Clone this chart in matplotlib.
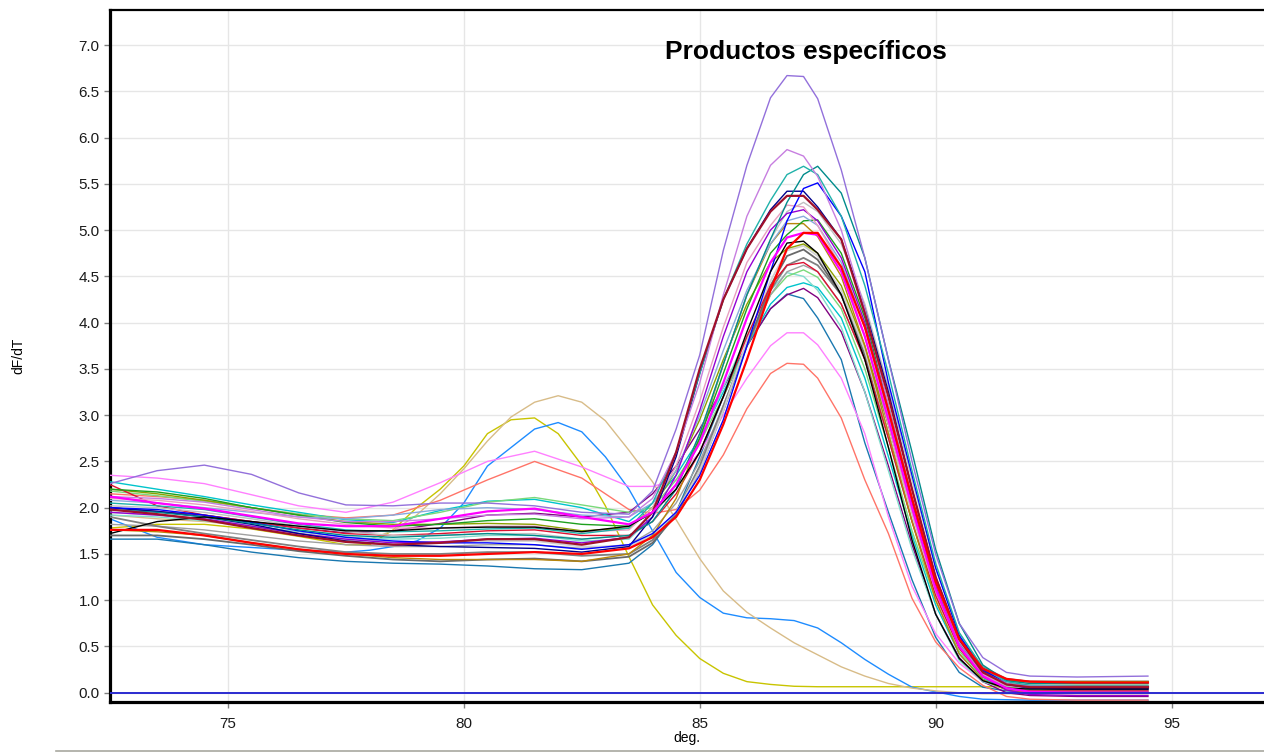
import numpy as np
import matplotlib.pyplot as plt
from matplotlib.lines import Line2D
from matplotlib.ticker import FormatStrFormatter

plt.rcParams['font.family'] = ['Liberation Sans', 'DejaVu Sans']

# Temperature grid (deg.) shared by the specific-product melt curves
temps = [72.5, 73.5, 74.5, 75.5, 76.5, 77.5, 78.5, 79.5, 80.5, 81.5, 82.5, 83.5,
         84.0, 84.5, 85.0, 85.5, 86.0, 86.5,
         86.85, 87.2, 87.5,
         88.0, 88.5, 89.0, 89.5, 90.0, 90.5, 91.0, 91.5, 92.0,
         93.0, 94.5]

# Finer grid for the off-target samples (peaks near 81-82 deg.)
temps_off = [72.5, 73.5, 74.5, 75.5, 76.5, 77.5, 78.0, 78.5, 79.0, 79.5, 80.0, 80.5,
             81.0, 81.5, 82.0, 82.5, 83.0, 83.5, 84.0, 84.5, 85.0, 85.5, 86.0, 86.5,
             87.0, 87.5, 88.0, 88.5, 89.0, 89.5, 90.0, 90.5, 91.0, 92.0, 93.0, 94.5]

# dF/dT per sample
mediumpurple = [2.26, 2.40, 2.46, 2.36, 2.16, 2.03, 2.02, 2.05, 2.05, 2.02, 1.95, 1.93,
                2.18, 2.85, 3.65, 4.78, 5.70, 6.43,
                6.67, 6.66, 6.42,
                5.65, 4.70, 3.60, 2.50, 1.50, 0.75, 0.38, 0.22, 0.18,
                0.17, 0.18]
orchid = [2.12, 2.10, 2.06, 1.98, 1.90, 1.85, 1.85, 1.88, 1.92, 1.93, 1.88, 1.90,
          2.10, 2.60, 3.35, 4.30, 5.15, 5.70,
          5.87, 5.80, 5.58,
          5.00, 4.15, 3.10, 2.10, 1.20, 0.55, 0.22, 0.10, 0.07,
          0.07, 0.07]
lightseagreen = [2.05, 2.02, 1.98, 1.90, 1.82, 1.76, 1.74, 1.75, 1.77, 1.78, 1.72, 1.78,
                 2.05, 2.60, 3.45, 4.25, 4.85, 5.32,
                 5.60, 5.69, 5.60,
                 5.15, 4.40, 3.45, 2.40, 1.40, 0.65, 0.27, 0.12, 0.08,
                 0.07, 0.07]
darkcyan = [1.98, 1.95, 1.90, 1.83, 1.76, 1.70, 1.68, 1.70, 1.72, 1.70, 1.66, 1.70,
            1.85, 2.20, 2.80, 3.55, 4.30, 4.90,
            5.30, 5.60, 5.69,
            5.40, 4.70, 3.60, 2.60, 1.55, 0.75, 0.30, 0.13, 0.10,
            0.10, 0.10]
blue = [2.00, 1.98, 1.92, 1.84, 1.75, 1.68, 1.64, 1.62, 1.62, 1.60, 1.55, 1.60,
        1.72, 1.95, 2.35, 2.95, 3.75, 4.55,
        5.10, 5.45, 5.51,
        5.15, 4.55, 3.35, 2.35, 1.35, 0.62, 0.25, 0.10, 0.05,
        0.04, 0.04]
navy = [2.00, 1.96, 1.90, 1.82, 1.72, 1.64, 1.60, 1.58, 1.57, 1.56, 1.52, 1.58,
        1.90, 2.55, 3.45, 4.25, 4.80, 5.22,
        5.42, 5.42, 5.25,
        4.90, 4.15, 3.25, 2.20, 1.25, 0.58, 0.23, 0.09, 0.05,
        0.04, 0.05]
brown = [1.98, 1.93, 1.87, 1.78, 1.70, 1.63, 1.60, 1.62, 1.66, 1.66, 1.60, 1.68,
         1.95, 2.60, 3.50, 4.25, 4.80, 5.20,
         5.37, 5.37, 5.22,
         4.90, 4.10, 3.20, 2.20, 1.25, 0.58, 0.22, 0.09, 0.06,
         0.06, 0.06]
lightpink = [2.10, 2.08, 2.03, 1.96, 1.88, 1.82, 1.78, 1.78, 1.80, 1.80, 1.74, 1.76,
             2.00, 2.45, 3.15, 3.95, 4.65, 5.05,
             5.27, 5.25, 5.05,
             4.60, 3.85, 2.90, 1.95, 1.10, 0.50, 0.20, 0.08, 0.05,
             0.05, 0.05]
darkviolet = [1.95, 1.92, 1.88, 1.80, 1.72, 1.66, 1.62, 1.63, 1.66, 1.67, 1.62, 1.68,
              1.90, 2.35, 3.05, 3.85, 4.55, 5.00,
              5.18, 5.22, 5.10,
              4.70, 4.00, 3.05, 2.05, 1.15, 0.50, 0.18, 0.03, -0.02,
              -0.03, -0.03]
silver = [2.02, 2.00, 1.95, 1.88, 1.80, 1.74, 1.70, 1.70, 1.72, 1.72, 1.66, 1.70,
          1.85, 2.20, 2.80, 3.55, 4.30, 4.90,
          5.20, 5.30, 5.20,
          4.85, 4.20, 3.30, 2.30, 1.35, 0.65, 0.27, 0.12, 0.10,
          0.10, 0.10]
cornflower = [2.08, 2.05, 2.00, 1.95, 1.90, 1.88, 1.92, 1.98, 2.00, 1.98, 1.92, 1.90,
              2.05, 2.40, 3.00, 3.70, 4.35, 4.85,
              5.10, 5.15, 5.05,
              4.65, 3.95, 3.00, 2.05, 1.15, 0.52, 0.20, 0.08, 0.05,
              0.05, 0.05]
green = [2.20, 2.17, 2.10, 2.00, 1.92, 1.84, 1.80, 1.82, 1.86, 1.88, 1.82, 1.80,
         1.95, 2.25, 2.75, 3.45, 4.15, 4.75,
         4.95, 5.10, 5.11,
         4.75, 4.05, 3.10, 2.10, 1.20, 0.55, 0.22, 0.10, 0.08,
         0.08, 0.08]
goldenrod = [1.76, 1.74, 1.70, 1.62, 1.55, 1.50, 1.46, 1.44, 1.44, 1.44, 1.42, 1.50,
             1.70, 2.10, 2.75, 3.55, 4.30, 4.85,
             5.07, 5.07, 4.93,
             4.50, 3.75, 2.80, 1.85, 1.00, 0.42, 0.14, 0.03, 0.00,
             0.00, 0.00]
red = [1.76, 1.76, 1.70, 1.62, 1.55, 1.50, 1.48, 1.48, 1.50, 1.52, 1.50, 1.56,
       1.68, 1.90, 2.30, 2.90, 3.60, 4.35,
       4.80, 4.97, 4.97,
       4.60, 3.95, 3.05, 2.10, 1.20, 0.58, 0.26, 0.15, 0.12,
       0.11, 0.11]
magenta = [2.12, 2.05, 1.99, 1.91, 1.83, 1.80, 1.80, 1.88, 1.96, 1.99, 1.90, 1.82,
           1.95, 2.25, 2.70, 3.35, 4.05, 4.65,
           4.92, 4.97, 4.95,
           4.55, 3.85, 2.95, 2.00, 1.12, 0.50, 0.18, 0.05, 0.01,
           0.00, 0.00]
black = [1.72, 1.85, 1.90, 1.85, 1.80, 1.75, 1.75, 1.78, 1.79, 1.79, 1.74, 1.80,
         1.95, 2.20, 2.60, 3.20, 3.90, 4.55,
         4.86, 4.88, 4.75,
         4.30, 3.60, 2.65, 1.65, 0.85, 0.37, 0.13, 0.05, 0.04,
         0.04, 0.04]
lightgray = [1.95, 1.92, 1.88, 1.80, 1.72, 1.66, 1.63, 1.63, 1.64, 1.64, 1.58, 1.58,
             1.70, 1.95, 2.40, 3.05, 3.80, 4.45,
             4.78, 4.83, 4.72,
             4.35, 3.70, 2.80, 1.90, 1.05, 0.48, 0.19, 0.08, 0.06,
             0.06, 0.06]
dimgray = [1.70, 1.70, 1.66, 1.60, 1.53, 1.48, 1.44, 1.42, 1.44, 1.45, 1.42, 1.47,
           1.62, 1.92, 2.40, 3.05, 3.75, 4.40,
           4.72, 4.79, 4.68,
           4.30, 3.65, 2.80, 1.90, 1.10, 0.52, 0.24, 0.13, 0.12,
           0.12, 0.12]
gray = [1.90, 1.80, 1.72, 1.65, 1.58, 1.52, 1.50, 1.50, 1.52, 1.52, 1.48, 1.50,
        1.65, 1.95, 2.45, 3.10, 3.75, 4.35,
        4.62, 4.70, 4.62,
        4.30, 3.70, 2.90, 2.00, 1.20, 0.60, 0.28, 0.15, 0.12,
        0.12, 0.12]
darkgray = [1.82, 1.80, 1.76, 1.70, 1.64, 1.60, 1.58, 1.58, 1.60, 1.60, 1.56, 1.60,
            1.75, 2.05, 2.50, 3.10, 3.75, 4.30,
            4.55, 4.62, 4.55,
            4.20, 3.60, 2.75, 1.85, 1.05, 0.48, 0.19, 0.08, 0.06,
            0.06, 0.06]
lightgreen = [2.18, 2.13, 2.07, 2.00, 1.93, 1.88, 1.86, 1.95, 2.06, 2.11, 2.03, 1.95,
              2.00, 2.30, 2.70, 3.20, 3.75, 4.30,
              4.50, 4.57, 4.49,
              4.15, 3.50, 2.65, 1.75, 1.00, 0.45, 0.17, 0.07, 0.05,
              0.05, 0.05]
aquamarine = [1.92, 1.90, 1.86, 1.80, 1.74, 1.68, 1.66, 1.67, 1.70, 1.70, 1.64, 1.66,
              1.90, 2.25, 2.70, 3.30, 3.85, 4.35,
              4.54, 4.50, 4.35,
              3.95, 3.25, 2.40, 1.55, 0.85, 0.35, 0.12, 0.04, 0.03,
              0.03, 0.03]
darkturquoise = [2.28, 2.20, 2.12, 2.03, 1.95, 1.87, 1.84, 1.97, 2.07, 2.09, 2.00, 1.85,
                 2.05, 2.35, 2.75, 3.25, 3.75, 4.20,
                 4.38, 4.43, 4.38,
                 4.05, 3.40, 2.55, 1.70, 0.95, 0.42, 0.15, 0.05, 0.03,
                 0.03, 0.03]
purple = [2.00, 1.96, 1.92, 1.85, 1.78, 1.73, 1.75, 1.83, 1.92, 1.94, 1.90, 1.95,
          2.15, 2.45, 2.85, 3.30, 3.75, 4.15,
          4.30, 4.37, 4.27,
          3.90, 3.25, 2.45, 1.60, 0.85, 0.38, 0.12, 0.00, -0.03,
          -0.04, -0.04]
steelblue = [1.66, 1.66, 1.60, 1.52, 1.46, 1.42, 1.40, 1.39, 1.37, 1.34, 1.33, 1.40,
             1.60, 1.95, 2.55, 3.20, 3.75, 4.15,
             4.31, 4.26, 4.05,
             3.60, 2.70, 1.95, 1.22, 0.60, 0.22, 0.06, 0.02, 0.01,
             0.01, 0.01]
violet = [2.35, 2.32, 2.26, 2.14, 2.02, 1.95, 2.06, 2.27, 2.50, 2.61, 2.44, 2.23,
          2.23, 2.30, 2.60, 3.00, 3.40, 3.75,
          3.89, 3.89, 3.76,
          3.40, 2.80, 1.90, 1.15, 0.64, 0.32, 0.12, 0.04, 0.02,
          0.02, 0.02]
salmon = [2.15, 2.12, 2.08, 2.00, 1.93, 1.89, 1.92, 2.08, 2.30, 2.50, 2.32, 1.98,
          1.94, 1.98, 2.19, 2.57, 3.07, 3.45,
          3.56, 3.55, 3.40,
          2.97, 2.30, 1.72, 1.02, 0.55, 0.27, 0.08, -0.04, -0.07,
          -0.08, -0.08]
olive = [2.20, 2.15, 2.08, 2.00, 1.92, 1.85, 1.82, 1.82, 1.83, 1.82, 1.75, 1.78,
         2.00, 2.40, 2.95, 3.60, 4.20, 4.65,
         4.80, 4.85, 4.75,
         4.40, 3.75, 2.90, 1.98, 1.15, 0.55, 0.25, 0.14, 0.12,
         0.12, 0.12]
crimson = [2.25, 2.02, 1.92, 1.85, 1.78, 1.72, 1.70, 1.72, 1.75, 1.76, 1.70, 1.70,
           1.85, 2.15, 2.60, 3.20, 3.85, 4.40,
           4.62, 4.65, 4.55,
           4.20, 3.60, 2.75, 1.85, 1.05, 0.48, 0.17, 0.05, 0.02,
           0.02, 0.02]

# Off-target samples
yellow = [1.78, 1.82, 1.82, 1.77, 1.69, 1.60, 1.60, 1.76, 2.00, 2.20, 2.45, 2.80,
          2.95, 2.97, 2.80, 2.46, 2.02, 1.47, 0.95, 0.62, 0.37, 0.21, 0.12, 0.09,
          0.07, 0.065, 0.065, 0.065, 0.065, 0.065, 0.065, 0.065, 0.065, 0.065, 0.065, 0.065]
dodgerblue = [1.88, 1.68, 1.60, 1.57, 1.54, 1.52, 1.54, 1.58, 1.64, 1.78, 2.05, 2.45,
              2.65, 2.85, 2.92, 2.82, 2.55, 2.20, 1.75, 1.30, 1.03, 0.86, 0.81, 0.80,
              0.78, 0.70, 0.54, 0.36, 0.20, 0.06, 0.01, -0.04, -0.07, -0.08, -0.08, -0.08]
tan = [1.92, 1.88, 1.85, 1.80, 1.72, 1.64, 1.66, 1.75, 1.92, 2.15, 2.42, 2.72,
       2.98, 3.14, 3.21, 3.14, 2.94, 2.62, 2.28, 1.87, 1.45, 1.10, 0.87, 0.70,
       0.54, 0.41, 0.28, 0.18, 0.10, 0.05, 0.02, 0.00, -0.01, -0.01, -0.01, -0.01]

specific = [
    (steelblue, '#1a78b0', 1.0),
    (salmon, '#ff7468', 1.0),
    (violet, '#ff80ff', 1.0),
    (purple, '#800080', 1.0),
    (darkturquoise, '#00c4cc', 1.0),
    (aquamarine, '#80dccc', 1.0),
    (lightgreen, '#7ad97a', 1.0),
    (darkgray, '#a0a0a0', 1.0),
    (gray, '#808080', 1.3),
    (dimgray, '#696969', 1.3),
    (lightgray, '#d0d0d0', 1.3),
    (olive, '#8ca000', 1.0),
    (crimson, '#dd1030', 1.0),
    (goldenrod, '#b8860b', 1.0),
    (green, '#1ea01e', 1.0),
    (cornflower, '#88aadd', 1.0),
    (silver, '#c0c0c0', 1.0),
    (darkviolet, '#9400d3', 1.0),
    (lightpink, '#e8a0c0', 1.0),
    (navy, '#00008b', 1.0),
    (blue, '#0000ff', 1.0),
    (darkcyan, '#008b8b', 1.0),
    (lightseagreen, '#20b2aa', 1.0),
    (orchid, '#c77ee0', 1.0),
    (mediumpurple, '#9370db', 1.0),
    (black, '#000000', 1.0),
    (brown, '#a0102a', 1.6),
    (magenta, '#ff00ff', 1.6),
    (red, '#ff0000', 1.6),
]

off_target = [
    (yellow, '#c8c400', 1.0),
    (dodgerblue, '#1e8cff', 1.0),
    (tan, '#d8bc88', 1.0),
]

fig = plt.figure(figsize=(12.64, 7.52), dpi=100)
ax = fig.add_axes([0.087, 0.066, 0.913, 0.9205])

for vals, color, lw in off_target:
    ax.plot(temps_off, vals, color=color, linewidth=lw, zorder=2)
for vals, color, lw in specific:
    ax.plot(temps, vals, color=color, linewidth=lw, zorder=3)

# baseline trace
ax.axhline(0.0, color='#2b2bd0', linewidth=1.4, zorder=4)

ax.set_xlim(72.5, 96.96)
ax.set_ylim(-0.104, 7.377)
ax.set_xticks([75, 80, 85, 90, 95])
ax.set_yticks(np.arange(0, 7.01, 0.5))
ax.yaxis.set_major_formatter(FormatStrFormatter('%.1f'))
ax.grid(True, color='#e6e6e6', linewidth=1.0, zorder=0)
ax.set_axisbelow(True)

for side in ('left', 'bottom'):
    ax.spines[side].set_linewidth(2.3)
ax.spines['top'].set_linewidth(1.6)
ax.spines['right'].set_visible(False)

ax.tick_params(axis='both', color='#808080', length=4.5, width=1.0,
               labelsize=11, labelcolor='#1a1a1a')
ax.tick_params(axis='x', pad=6)
ax.tick_params(axis='y', pad=3)

ax.set_xlabel('deg.', fontsize=10, labelpad=0)
ax.set_ylabel('dF/dT', fontsize=10, labelpad=38)
ax.text(0.603, 0.939, 'Productos específicos', transform=ax.transAxes,
        ha='center', va='center', fontsize=19, fontweight='bold')

# separator under the plot area
fig.add_artist(Line2D([0.044, 1.0], [0.0015, 0.0015], color='#a8a8a0', linewidth=1.2))

fig.savefig('out.png', dpi=100)
